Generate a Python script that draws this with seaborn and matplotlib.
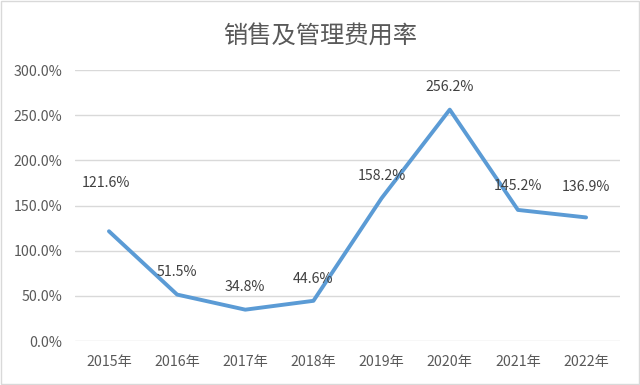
import numpy as np
import pandas as pd
import matplotlib
matplotlib.use('Agg')
import matplotlib.pyplot as plt
import seaborn as sns
from matplotlib.patches import Rectangle
from matplotlib.ticker import FuncFormatter

# 数据
years = ['2015年', '2016年', '2017年', '2018年', '2019年', '2020年', '2021年', '2022年']
rate = [121.6, 51.5, 34.8, 44.6, 158.2, 256.2, 145.2, 136.9]

df = pd.DataFrame({'year': years, 'rate': rate})

sns.set_theme(style='white')
plt.rcParams['font.family'] = ['Noto Sans CJK SC', 'DejaVu Sans']

gray = '#595959'
fig = plt.figure(figsize=(6.4, 3.85), dpi=100)
ax = fig.add_axes([0.117, 0.114, 0.852, 0.704])

sns.lineplot(data=df, x='year', y='rate', ax=ax, color='#5B9BD5', linewidth=2.8, sort=False)

ax.set_ylim(0, 300)
ax.set_xlim(-0.5, len(years) - 0.5)
ax.set_yticks(np.arange(0, 301, 50))
ax.yaxis.set_major_formatter(FuncFormatter(lambda v, p: f'{v:.1f}%'))
ax.grid(axis='y', color='#D9D9D9', linewidth=1)
ax.set_axisbelow(True)
for s in ax.spines.values():
    s.set_visible(False)
ax.tick_params(axis='both', length=0, labelsize=10.2, colors=gray)
ax.tick_params(axis='x', pad=10)
ax.tick_params(axis='y', pad=9)
ax.set_xlabel('')
ax.set_ylabel('')

# 数据标签
offsets = [(-2, 30), (0, 11), (0, 11), (0, 11), (0, 11), (0, 11), (0, 12), (0, 17)]
for i, v in enumerate(rate):
    ax.annotate(f'{v:.1f}%', (i, v), xytext=offsets[i], textcoords='offset points',
                ha='center', va='bottom', fontsize=10.2, color='#404040')

fig.text(0.5, 0.905, '销售及管理费用率', ha='center', va='center', fontsize=17.5, color=gray)

fig.patches.append(Rectangle((0.002, 0.003), 0.996, 0.994, transform=fig.transFigure,
                             fill=False, edgecolor='#D9D9D9', linewidth=1))

fig.savefig('out.png', dpi=100)
